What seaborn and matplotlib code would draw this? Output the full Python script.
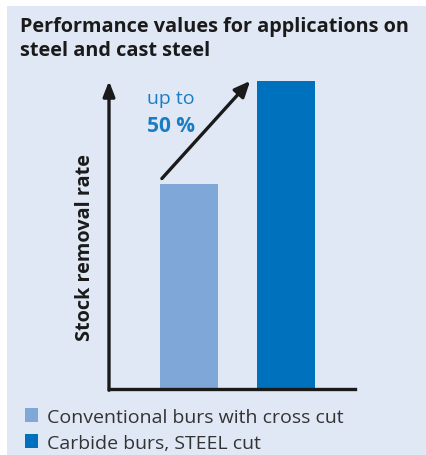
import matplotlib
matplotlib.use("Agg")
import matplotlib.pyplot as plt
import matplotlib.patches as mpatches
import seaborn as sns
import pandas as pd

# ----------------------------------------------------------------
# DATA
# ----------------------------------------------------------------
tools = ["Conventional burs with cross cut", "Carbide burs, STEEL cut"]
removal_rate = [100, 150]
gain_label = ["up to", "50 %"]

BG = "#E1E8F5"
LIGHT_BLUE = "#7FA8D9"
DARK_BLUE = "#0071BC"
TEXT_BLUE = "#1A7DC4"
INK = "#1A1A1A"

sns.set_style("white")
plt.rcParams["font.family"] = ["Open Sans", "DejaVu Sans"]

df = pd.DataFrame({"tool": tools, "rate": removal_rate})

fig = plt.figure(figsize=(4.27, 4.56), dpi=100, facecolor="white")
W, H = 427, 456

# light panel behind everything
fig.patches.append(mpatches.Rectangle((7 / W, 0), 1, 1 - 7 / H,
                                      transform=fig.transFigure,
                                      facecolor=BG, edgecolor="none", zorder=-10))

ax = fig.add_axes([109 / W, (H - 390) / H, (355 - 109) / W, (390 - 82) / H])
ax.set_facecolor("none")
ax.set_zorder(1)

sns.barplot(data=df, x="tool", y="rate", hue="tool",
            palette=[LIGHT_BLUE, DARK_BLUE], width=0.6, linewidth=0,
            saturation=1, legend=False, ax=ax)

ax.set_xlim(-0.825, 1.711)
ax.set_ylim(0, 150)
ax.set_xticks([])
ax.set_yticks([])
ax.set_xlabel("")
ax.set_ylabel("Stock removal rate", fontsize=14.3, fontweight="bold", color=INK)
ax.yaxis.label.set_va("center")
ax.yaxis.set_label_coords(-0.097, 0.464)

for s in ["top", "right", "left"]:
    ax.spines[s].set_visible(False)
ax.spines["bottom"].set_linewidth(2.4)
ax.spines["bottom"].set_color(INK)

# y axis with arrow head
ax.annotate("", xy=(0, 1.0), xytext=(0, -0.004), xycoords="axes fraction",
            arrowprops=dict(arrowstyle="-|>,head_length=0.9,head_width=0.35",
                            lw=2.4, color=INK, shrinkA=0, shrinkB=0),
            annotation_clip=False)

# diagonal "increase" arrow between the bars
ax.annotate("", xy=(0.63, removal_rate[1]), xytext=(-0.28, removal_rate[0] + 2.5),
            arrowprops=dict(arrowstyle="-|>,head_length=0.95,head_width=0.42",
                            lw=2.4, color=INK, shrinkA=0, shrinkB=0),
            annotation_clip=False)

ax.text(-0.435, 141.5, gain_label[0], fontsize=14, color=TEXT_BLUE,
        va="center", ha="left")
ax.text(-0.435, 128.5, gain_label[1], fontsize=15, color=TEXT_BLUE,
        fontweight="bold", va="center", ha="left")

# title
fig.text(20 / W, 1 - 39 / H, "Performance values for applications on\nsteel and cast steel",
         fontsize=14.3, fontweight="bold", color=INK, va="center", ha="left",
         linespacing=1.22)

# legend
handles = [mpatches.Patch(facecolor=c, edgecolor="none") for c in [LIGHT_BLUE, DARK_BLUE]]
fig.legend(handles, tools, loc="upper left", bbox_to_anchor=(17 / W, 1 - 401 / H),
           frameon=False, fontsize=14, handlelength=0.7, handleheight=0.7,
           handletextpad=0.45, labelspacing=0.42, borderaxespad=0,
           labelcolor="#333333")

fig.savefig("out.png", dpi=100, facecolor="white")
